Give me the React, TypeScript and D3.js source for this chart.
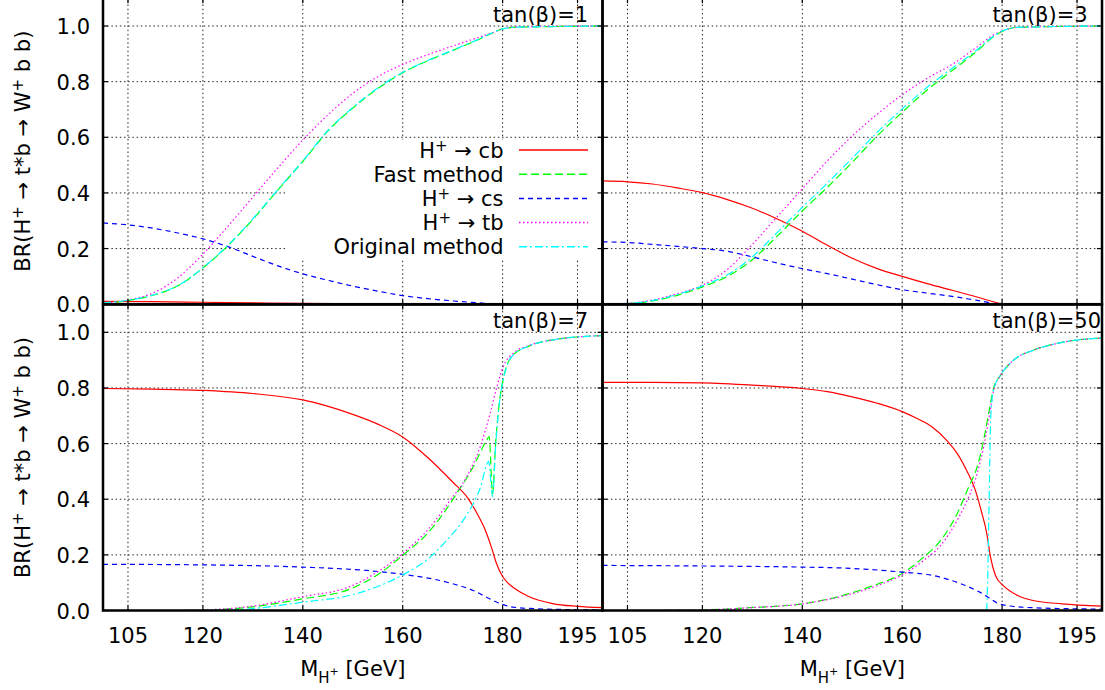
import React from 'react';
import * as d3 from 'd3';

type P = [number, number][];

// ---------- tick labels / categories ----------
const massTicks = [105, 120, 140, 160, 180, 195];
const brTicks = [0, 0.2, 0.4, 0.6, 0.8, 1.0];
const tanBetaLabels = ['tan(β)=1', 'tan(β)=3', 'tan(β)=7', 'tan(β)=50'];

// ---------- tan(beta) = 1 ----------
const cb_t1: P = [[100, 0.010], [110, 0.009], [120, 0.007], [130, 0.005], [140, 0.003], [150, 0.002], [160, 0.001], [170, 0.0005], [180, 0], [200, 0]];
const fast_t1: P = [[100, 0.004], [105, 0.013], [110, 0.032], [115, 0.066], [120, 0.13], [125, 0.21], [130, 0.305], [135, 0.41], [140, 0.513], [145, 0.622], [150, 0.705], [155, 0.775], [160, 0.832], [165, 0.875], [170, 0.912], [175, 0.95], [178, 0.975], [180, 0.99], [183, 0.996], [190, 0.998], [200, 1.0]];
const cs_t1: P = [[100, 0.292], [105, 0.285], [110, 0.273], [115, 0.256], [120, 0.235], [125, 0.207], [130, 0.172], [135, 0.138], [140, 0.109], [145, 0.086], [150, 0.065], [155, 0.047], [160, 0.031], [165, 0.02], [170, 0.012], [175, 0.005], [180, 0], [200, 0]];
const tb_t1: P = [[100, 0.003], [105, 0.015], [110, 0.04], [115, 0.095], [120, 0.18], [125, 0.28], [130, 0.385], [135, 0.49], [140, 0.59], [145, 0.68], [150, 0.758], [155, 0.818], [160, 0.862], [165, 0.897], [170, 0.928], [175, 0.958], [178, 0.976], [180, 0.99], [183, 0.997], [200, 1.0]];
const orig_t1: P = [[100, 0.005], [105, 0.014], [110, 0.033], [115, 0.067], [120, 0.131], [125, 0.212], [130, 0.307], [135, 0.412], [140, 0.515], [145, 0.624], [150, 0.707], [155, 0.777], [160, 0.834], [165, 0.876], [170, 0.913], [175, 0.951], [178, 0.976], [180, 0.99], [183, 0.996], [190, 0.998], [200, 1.0]];

// ---------- tan(beta) = 3 ----------
const cb_t3: P = [[100, 0.443], [105, 0.44], [110, 0.432], [115, 0.418], [120, 0.401], [125, 0.376], [130, 0.345], [135, 0.306], [140, 0.262], [145, 0.212], [150, 0.165], [155, 0.128], [160, 0.1], [165, 0.074], [170, 0.05], [175, 0.026], [180, 0.002], [182, 0], [200, 0]];
const fast_t3: P = [[100, 0], [105, 0.002], [110, 0.012], [115, 0.032], [120, 0.062], [125, 0.1], [130, 0.16], [135, 0.245], [140, 0.335], [145, 0.42], [150, 0.51], [155, 0.605], [160, 0.69], [165, 0.77], [170, 0.84], [175, 0.91], [178, 0.958], [180, 0.98], [183, 0.995], [200, 1.0]];
const cs_t3: P = [[100, 0.224], [105, 0.222], [110, 0.215], [115, 0.208], [120, 0.2], [125, 0.19], [130, 0.17], [135, 0.148], [140, 0.128], [145, 0.11], [150, 0.09], [155, 0.07], [160, 0.052], [165, 0.04], [170, 0.028], [175, 0.014], [180, 0], [200, 0]];
const tb_t3: P = [[100, 0], [105, 0.003], [110, 0.015], [115, 0.038], [120, 0.068], [125, 0.125], [130, 0.215], [135, 0.315], [140, 0.415], [145, 0.515], [150, 0.605], [155, 0.683], [160, 0.753], [165, 0.812], [170, 0.862], [175, 0.925], [178, 0.965], [180, 0.982], [183, 0.995], [190, 0.998], [200, 1.0]];
const orig_t3: P = [[100, 0], [105, 0.003], [110, 0.013], [115, 0.035], [120, 0.066], [125, 0.106], [130, 0.17], [135, 0.258], [140, 0.348], [145, 0.435], [150, 0.525], [155, 0.618], [160, 0.702], [165, 0.78], [170, 0.848], [175, 0.915], [178, 0.96], [180, 0.982], [183, 0.995], [200, 1.0]];

// ---------- tan(beta) = 7 ----------
const cb_t7: P = [[100, 0.798], [110, 0.796], [120, 0.791], [130, 0.78], [140, 0.757], [150, 0.705], [155, 0.67], [160, 0.624], [165, 0.55], [170, 0.462], [173, 0.405], [175, 0.345], [176.5, 0.29], [177.8, 0.225], [178.8, 0.168], [180, 0.122], [181, 0.1], [182.5, 0.078], [185, 0.052], [190, 0.025], [195, 0.015], [200, 0.01]];
const fast_t7: P = [[100, 0], [115, 0], [120, 0.001], [129.3, 0.012], [140, 0.042], [149.3, 0.076], [155.5, 0.135], [160, 0.198], [165.5, 0.288], [170.8, 0.42], [174.1, 0.516], [176.8, 0.612], [177.3, 0.625], [178.0, 0.42], [178.6, 0.6], [179.3, 0.74], [179.8, 0.8], [180.5, 0.86], [182.1, 0.918], [185.5, 0.952], [190.8, 0.975], [195.5, 0.984], [200, 0.988]];
const cs_t7: P = [[100, 0.166], [120, 0.164], [140, 0.156], [152.7, 0.144], [160, 0.13], [168.8, 0.102], [174.1, 0.072], [178.1, 0.036], [180, 0.022], [182.1, 0.012], [188.8, 0.005], [200, 0.002]];
const tb_t7: P = [[100, 0], [115, 0], [120, 0.002], [129.3, 0.014], [140, 0.05], [149.3, 0.085], [155.5, 0.145], [160, 0.205], [165.5, 0.3], [169.5, 0.396], [172.8, 0.48], [175.5, 0.588], [177.5, 0.708], [178.8, 0.8], [180.1, 0.876], [182.1, 0.924], [185.5, 0.954], [190.8, 0.975], [195.5, 0.984], [200, 0.988]];
const orig_t7: P = [[100, 0], [118, 0], [125, 0.002], [129.3, 0.006], [140, 0.03], [149.3, 0.054], [155.5, 0.09], [160, 0.128], [165.5, 0.192], [168.8, 0.252], [172.1, 0.324], [174.1, 0.384], [175.8, 0.456], [176.8, 0.525], [177.2, 0.535], [178.0, 0.41], [178.6, 0.59], [179.2, 0.72], [179.8, 0.8], [180.8, 0.876], [182.1, 0.918], [185.5, 0.952], [190.8, 0.975], [195.5, 0.984], [200, 0.988]];

// ---------- tan(beta) = 50 ----------
const cb_t50: P = [[100, 0.82], [110, 0.82], [120, 0.818], [130, 0.81], [140, 0.798], [145, 0.787], [150, 0.768], [155, 0.745], [160, 0.715], [163, 0.69], [166, 0.66], [169, 0.61], [171, 0.565], [173, 0.5], [174.5, 0.44], [175.8, 0.36], [176.9, 0.28], [177.7, 0.19], [178.7, 0.125], [180.2, 0.09], [182.9, 0.056], [186.2, 0.036], [192, 0.024], [200, 0.016]];
const fast_t50: P = [[100, 0], [110, 0], [120, 0.002], [129.5, 0.01], [140, 0.024], [147.7, 0.052], [154.3, 0.09], [160, 0.133], [164.3, 0.192], [167.7, 0.252], [171, 0.348], [173.3, 0.444], [175, 0.516], [176.3, 0.612], [177.3, 0.708], [178.3, 0.8], [179.7, 0.846], [182.3, 0.9], [186.3, 0.936], [191, 0.96], [200, 0.98]];
const cs_t50: P = [[100, 0.162], [120, 0.16], [140, 0.156], [147.7, 0.153], [160, 0.138], [166.2, 0.126], [169.5, 0.11], [172.9, 0.088], [175.5, 0.066], [177.2, 0.048], [178.9, 0.028], [180.2, 0.02], [186.2, 0.01], [200, 0.005]];
const tb_t50: P = [[100, 0], [110, 0], [120, 0.002], [129.5, 0.01], [140, 0.024], [147.7, 0.05], [154.3, 0.085], [160, 0.128], [164.3, 0.18], [167.7, 0.234], [171, 0.324], [173.3, 0.408], [175, 0.492], [176.3, 0.588], [177.3, 0.684], [178.3, 0.79], [179.7, 0.846], [182.3, 0.9], [186.3, 0.936], [191, 0.96], [200, 0.98]];
const orig_t50: P = [[176.9, 0], [177.1, 0.1], [177.4, 0.4], [177.7, 0.68], [178.0, 0.76], [178.4, 0.8], [179.7, 0.846], [182.3, 0.9], [186.3, 0.936], [191, 0.96], [200, 0.98]];

// ---------- series styles (draw order = legend order) ----------
const seriesKeys = ['cb', 'fast', 'cs', 'tb', 'orig'];
const seriesColors: Record<string, string> = { cb: '#ff0000', fast: '#00ff00', cs: '#0000ff', tb: '#ff00ff', orig: '#00ffff' };
const seriesDash: Record<string, string> = { cb: 'none', fast: '8,4', cs: '5,4', tb: '1.5,2.5', orig: '8,3,2,3' };

const FONT = "'DejaVu Sans', Verdana, sans-serif";
const FS = 21;

const X_LEFT: [number, number] = [103, 602.5];
const X_RIGHT: [number, number] = [602.5, 1102];
const Y_TOP: [number, number] = [304.2, -1.8];
const Y_BOTTOM: [number, number] = [610.5, 304.5];

type Part = { t: string; sup?: boolean };
const legendEntries: { key: string; parts: Part[] }[] = [
  { key: 'cb', parts: [{ t: 'H' }, { t: '+', sup: true }, { t: ' → cb' }] },
  { key: 'fast', parts: [{ t: 'Fast method' }] },
  { key: 'cs', parts: [{ t: 'H' }, { t: '+', sup: true }, { t: ' → cs' }] },
  { key: 'tb', parts: [{ t: 'H' }, { t: '+', sup: true }, { t: ' → tb' }] },
  { key: 'orig', parts: [{ t: 'Original method' }] },
];
const yTitleParts: Part[] = [{ t: 'BR(H' }, { t: '+', sup: true }, { t: ' → t*b → W' }, { t: '+', sup: true }, { t: ' b b)' }];

function renderParts(parts: Part[]) {
  const out: React.ReactNode[] = [];
  let raised = false;
  parts.forEach((p, i) => {
    if (p.sup) {
      out.push(<tspan key={i} dy={-7} fontSize={15}>{p.t}</tspan>);
      raised = true;
    } else {
      out.push(<tspan key={i} dy={raised ? 7 : 0} fontSize={FS}>{p.t}</tspan>);
      raised = false;
    }
  });
  return out;
}

type Panel = {
  label: string;
  xr: [number, number];
  yr: [number, number];
  data: Record<string, P>;
  left: boolean;
  bottom: boolean;
  legend: boolean;
};

const panels: Panel[] = [
  { label: tanBetaLabels[0], xr: X_LEFT, yr: Y_TOP, data: { cb: cb_t1, fast: fast_t1, cs: cs_t1, tb: tb_t1, orig: orig_t1 }, left: true, bottom: false, legend: true },
  { label: tanBetaLabels[1], xr: X_RIGHT, yr: Y_TOP, data: { cb: cb_t3, fast: fast_t3, cs: cs_t3, tb: tb_t3, orig: orig_t3 }, left: false, bottom: false, legend: false },
  { label: tanBetaLabels[2], xr: X_LEFT, yr: Y_BOTTOM, data: { cb: cb_t7, fast: fast_t7, cs: cs_t7, tb: tb_t7, orig: orig_t7 }, left: true, bottom: true, legend: false },
  { label: tanBetaLabels[3], xr: X_RIGHT, yr: Y_BOTTOM, data: { cb: cb_t50, fast: fast_t50, cs: cs_t50, tb: tb_t50, orig: orig_t50 }, left: false, bottom: true, legend: false },
];

function PanelView({ p, idx }: { p: Panel; idx: number }) {
  const xs = d3.scaleLinear().domain([100, 200]).range(p.xr);
  const ys = d3.scaleLinear().domain([0, 1.1]).range(p.yr);
  const line = d3.line<[number, number]>().x(d => xs(d[0])).y(d => ys(d[1])).curve(d3.curveMonotoneX);
  const x0 = p.xr[0], x1 = p.xr[1], yB = p.yr[0], yT = p.yr[1];
  const clipId = `clip${idx}`;
  const tick = 5;
  return (
    <g>
      <defs>
        <clipPath id={clipId}>
          <rect x={x0} y={yT} width={x1 - x0} height={yB - yT} />
        </clipPath>
      </defs>
      {/* grid */}
      <g stroke="#000" strokeWidth={1} strokeDasharray="1.5,2.7" opacity={0.85}>
        {massTicks.map(m => <line key={'gx' + m} x1={xs(m)} x2={xs(m)} y1={yB} y2={yT} />)}
        {brTicks.filter(v => v > 0).map(v => <line key={'gy' + v} x1={x0} x2={x1} y1={ys(v)} y2={ys(v)} />)}
      </g>
      {p.legend && <rect x={285} y={139.5} width={x1 - 285} height={120} fill="#fff" />}
      {/* curves */}
      <g clipPath={`url(#${clipId})`} fill="none">
        {seriesKeys.map(k => (
          <path key={k} d={line(p.data[k]) || ''} stroke={seriesColors[k]} strokeWidth={1.2}
            strokeDasharray={seriesDash[k] === 'none' ? undefined : seriesDash[k]} />
        ))}
      </g>
      {/* ticks */}
      <g stroke="#000" strokeWidth={1.2}>
        {massTicks.map(m => (
          <g key={'t' + m}>
            <line x1={xs(m)} x2={xs(m)} y1={yB} y2={yB - tick} />
            <line x1={xs(m)} x2={xs(m)} y1={yT} y2={yT + tick} />
          </g>
        ))}
        {brTicks.map(v => (
          <g key={'ty' + v}>
            <line x1={x0} x2={x0 + tick} y1={ys(v)} y2={ys(v)} />
            <line x1={x1} x2={x1 - tick} y1={ys(v)} y2={ys(v)} />
          </g>
        ))}
      </g>
      <rect x={x0} y={yT} width={x1 - x0} height={yB - yT} fill="none" stroke="#000" strokeWidth={2.5} />
      {/* labels */}
      <g fontFamily={FONT} fontSize={FS} fill="#000">
        <text x={x0 + 390} y={yT + 23.5}>{p.label}</text>
        {p.left && brTicks.map(v => (
          <text key={'yl' + v} x={90} y={ys(v) + 8} textAnchor="end">{v.toFixed(1)}</text>
        ))}
        {p.bottom && massTicks.map(m => (
          <text key={'xl' + m} x={xs(m)} y={643} textAnchor="middle">{m}</text>
        ))}
        {p.left && (
          <text transform={`translate(30,${(yB + yT) / 2}) rotate(-90)`} textAnchor="middle">
            {renderParts(yTitleParts)}
          </text>
        )}
        {p.bottom && (
          <text x={(x0 + x1) / 2} y={676} textAnchor="middle">
            <tspan>M</tspan>
            <tspan dy={7.3} fontSize={15}>H</tspan>
            <tspan dy={-8.3} fontSize={11}>+</tspan>
            <tspan dy={1}> [GeV]</tspan>
          </text>
        )}
      </g>
      {p.legend && (
        <g fontFamily={FONT} fontSize={FS}>
          {legendEntries.map((e, i) => {
            const yy = 150 + i * 24.2;
            return (
              <g key={e.key}>
                <text x={503.5} y={yy + 7.5} textAnchor="end">{renderParts(e.parts)}</text>
                <line x1={519} x2={588} y1={yy} y2={yy} stroke={seriesColors[e.key]} strokeWidth={1.5}
                  strokeDasharray={seriesDash[e.key] === 'none' ? undefined : seriesDash[e.key]} />
              </g>
            );
          })}
        </g>
      )}
    </g>
  );
}

export default function App() {
  return (
    <svg width={1105} height={690} viewBox="0 0 1105 690"
      style={{ position: 'absolute', left: 0, top: 0, background: '#fff' }}>
      <rect x={0} y={0} width={1105} height={690} fill="#fff" />
      {panels.map((p, i) => <PanelView key={i} p={p} idx={i} />)}
    </svg>
  );
}
